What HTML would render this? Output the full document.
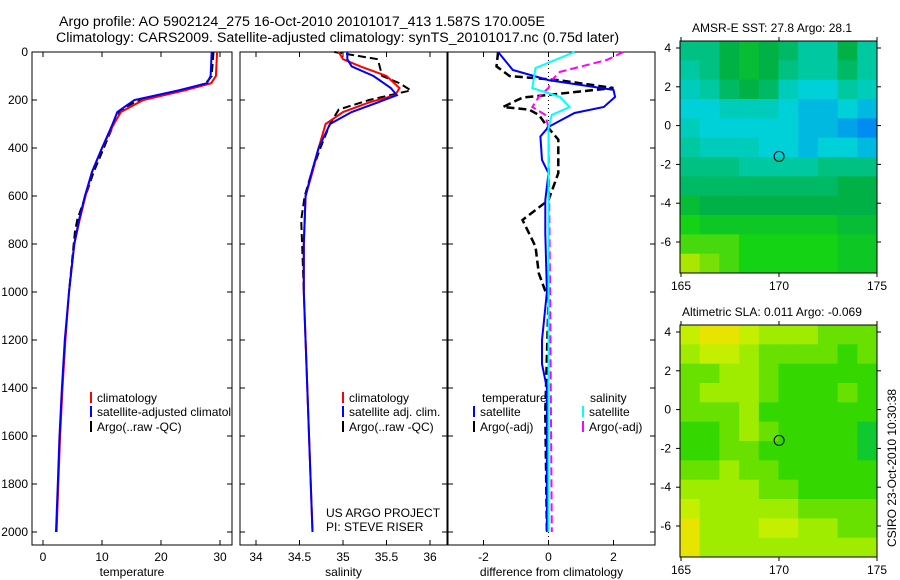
<!DOCTYPE html>
<html><head><meta charset="utf-8"><style>
html,body{margin:0;padding:0;background:#fff;}
svg{display:block;font-family:"Liberation Sans",sans-serif;}
text{font-size:12px;fill:#000;}
</style></head><body>
<svg id="fig" width="900" height="580" viewBox="0 0 900 580" xmlns="http://www.w3.org/2000/svg">
<text x="59" y="26" style="font-size:14.2px">Argo profile: AO 5902124_275 16-Oct-2010 20101017_413 1.587S 170.005E</text>
<text x="56" y="42" style="font-size:14.2px">Climatology: CARS2009. Satellite-adjusted climatology: synTS_20101017.nc (0.75d later)</text>
<text x="692" y="32">AMSR-E SST: 27.8 Argo: 28.1</text>
<text x="682" y="316">Altimetric SLA: 0.011 Argo: -0.069</text>
<text transform="translate(896,547) rotate(-90)">CSIRO 23-Oct-2010 10:30:38</text>
<g id="plots"></g>
</svg>
<script>
// ---------- data ----------
const depthTc=[0,100,130,160,200,250,300,400,500,600,700,800,1000,1200,1400,1600,1800,2000];
const tempClim=[29.5,29.3,28.5,24,17,13.2,12,10,8.3,7.2,6.2,5.3,4.4,3.8,3.3,2.9,2.6,2.3];
const tempSat=[28.6,28.4,27.8,23,15.5,12.6,11.8,10,8.3,7.1,6.1,5.3,4.4,3.7,3.2,2.8,2.5,2.2];
const depthTa=[0,100,130,160,180,210,230,250,300,400,500,600,700,750,800,900,1000];
const tempArgo=[28.9,28.6,27.6,24,20,15.5,14,13,12,10.3,8.6,7.2,5.8,5.4,5.2,4.8,4.4];
const depthS=[0,30,60,100,150,180,210,250,300,400,500,600,800,1000,1400,2000];
const salClim=[34.95,35.0,35.2,35.5,35.65,35.6,35.3,35.0,34.8,34.72,34.65,34.57,34.55,34.55,34.59,34.65];
const salSat=[35.05,35.05,35.1,35.35,35.55,35.62,35.4,35.1,34.85,34.72,34.64,34.57,34.55,34.55,34.59,34.65];
const depthSa=[0,30,100,130,160,200,240,300,400,500,600,700,800,1000];
const salArgo=[34.9,35.4,35.45,35.65,35.78,35.3,34.95,34.85,34.74,34.64,34.56,34.52,34.53,34.55];
const depthD=[0,75,117,158,187,229,254,312,352,450,505,617,755,1000,1200,1300,1400,2000];
const dTempSat=[-1.55,-1.1,0,2.0,2.05,1.7,0.8,0,-0.25,-0.2,0,-0.1,-0.1,-0.05,-0.2,-0.2,-0.05,-0.05];
const depthDs=[0,67,150,187,229,262,317,600,1000,2000];
const dSalSat=[0.8,-0.4,-0.5,0.35,0.65,0.1,0,0,0,0];
const depthDm=[0,33,83,117,150,187,229,262,317,1000,2000];
const dSalArgo=[2.3,1.8,0.35,0.1,0,-0.3,-0.5,-0.1,0,0.05,0.1];
const depthDa=[0,60,100,117,150,190,229,240,262,317,365,417,505,617,700,755,811,922,1033,1500,2000];
const dTempArgo=[-1.55,-1.6,-1.2,0.3,2.0,-0.8,-1.4,-0.6,-0.3,0,0.3,0.3,0.3,0,-0.8,-0.6,-0.4,-0.3,0,-0.1,-0.05];
const depthTicks=[0,200,400,600,800,1000,1200,1400,1600,1800,2000];
const tempTicks=[0,10,20,30];
const salTicks=[34,34.5,35,35.5,36];
const diffTicks=[-2,0,2];
const latTicks=[4,2,0,-2,-4,-6];
const lonTicks=[165,170,175];
const sstGrid=[
[27.8,27.8,27.6,27.5,27.6,27.7,27.9,27.9,27.6,27.9],
[27.9,27.8,27.6,27.5,27.6,27.8,27.9,27.9,27.7,27.9],
[28.0,27.9,27.7,27.6,27.7,28.0,28.1,28.1,27.9,28.0],
[28.1,28.1,28.0,28.0,28.0,28.1,28.2,28.2,28.1,28.2],
[28.0,28.1,28.1,28.1,28.1,28.1,28.2,28.2,28.3,28.4],
[27.9,28.0,28.0,28.0,28.1,28.1,28.2,28.1,28.1,28.2],
[27.8,27.8,27.8,27.9,27.9,27.9,27.9,27.8,27.8,27.8],
[27.7,27.7,27.7,27.7,27.7,27.7,27.7,27.7,27.6,27.6],
[27.5,27.6,27.6,27.6,27.6,27.6,27.6,27.6,27.6,27.6],
[27.3,27.4,27.4,27.4,27.4,27.4,27.4,27.4,27.5,27.5],
[27.2,27.2,27.2,27.3,27.3,27.3,27.3,27.3,27.4,27.4],
[27.0,27.1,27.2,27.3,27.3,27.3,27.3,27.3,27.4,27.4]];
const slaGrid=[
[3,4,4,3,2,2,2,1,1,1],
[2,3,3,2,1,1,1,1,0,1],
[1,1,2,2,1,0,0,0,0,0],
[1,2,2,2,1,0,0,0,1,0],
[1,1,1,2,0,0,0,0,0,0],
[0,0,1,2,1,0,0,0,0,-1],
[0,0,1,1,0,0,0,0,0,-1],
[1,1,2,1,1,0,0,0,0,0],
[2,2,2,2,1,1,0,0,0,0],
[3,2,2,2,2,2,1,1,1,1],
[4,2,2,2,3,3,2,2,1,1],
[4,2,2,2,2,2,2,2,2,2]];
const argoLon=[170.005];
const argoLat=[-1.587];

// ---------- helpers ----------
const NS='http://www.w3.org/2000/svg';
const root=document.getElementById('plots');
function mk(tag,attrs,parent){const e=document.createElementNS(NS,tag);for(const k in attrs)e.setAttribute(k,attrs[k]);(parent||root).appendChild(e);return e;}
function txt(x,y,s,anchor,parent){const t=mk('text',{x:x,y:y,'text-anchor':anchor||'start'},parent);t.textContent=s;return t;}
const yD=d=>52+d*0.24;
const FT=52,FB=545;
function panel(name,x0,x1,xs,ticks,label){
  const g=mk('g',{});
  
  
  const r=mk('rect',{x:x0,y:FT,width:x1-x0,height:FB-FT,fill:'none',stroke:'#000','stroke-width':1},g);
  
  
  ticks.forEach(v=>{const X=xs(v);mk('line',{x1:X,x2:X,y1:FB,y2:FB-5,stroke:'#000'},g);mk('line',{x1:X,x2:X,y1:FT,y2:FT+5,stroke:'#000'},g);
    const t=txt(X,561,String(v),'middle',g);});
  depthTicks.forEach(d=>{mk('line',{x1:x0,x2:x0+5,y1:yD(d),y2:yD(d),stroke:'#000'},g);mk('line',{x1:x1,x2:x1-5,y1:yD(d),y2:yD(d),stroke:'#000'},g);});
  const l=txt((x0+x1)/2,576,label,'middle',g);
  
  
  return g;
}
function line(g,xs,vals,deps,color,dash,nm,w){
  const pts=vals.map((v,i)=>xs(v).toFixed(1)+','+yD(deps[i]).toFixed(1)).join(' ');
  const p=mk('polyline',{points:pts,fill:'none',stroke:color,'stroke-width':w||2,'stroke-dasharray':dash||'none'},g);
  
  
}
function legend(g,x,y,color,label,nm){
  mk('line',{x1:x,x2:x,y1:y-10,y2:y+1,stroke:color,'stroke-width':2},g);
  const t=txt(x+6,y,label,'start',g);
  
  
}
depthTicks.forEach(d=>{const t=txt(28,yD(d)+4,String(d),'end');});

// temperature panel
const xT=v=>43+v*5.9;
const g1=panel('temperature-panel',32,232,xT,tempTicks,'temperature');
line(g1,xT,tempArgo,depthTa,'#000','8,4','temperature-argo-line');
line(g1,xT,tempClim,depthTc,'#f00','','temperature-climatology-line');
line(g1,xT,tempSat,depthTc,'#00f','','temperature-satellite-line');
const c1=mk('svg',{x:32,y:0,width:200,height:580,overflow:'hidden'},g1);
legend(c1,59,402,'#f00','climatology','legend-climatology');
legend(c1,59,416,'#00f','satellite-adjusted climatology','legend-satellite-adjusted');
legend(c1,59,431,'#000','Argo(..raw -QC)','legend-argo-raw');

// salinity panel
const xS=v=>256+(v-34)*87;
const g2=panel('salinity-panel',240,447,xS,salTicks,'salinity');
line(g2,xS,salArgo,depthSa,'#000','8,4','salinity-argo-line');
line(g2,xS,salClim,depthS,'#f00','','salinity-climatology-line');
line(g2,xS,salSat,depthS,'#00f','','salinity-satellite-line');
legend(g2,343,402,'#f00','climatology','legend-sal-climatology');
legend(g2,343,416,'#00f','satellite adj. clim.','legend-sal-satellite');
legend(g2,343,431,'#000','Argo(..raw -QC)','legend-sal-argo');
const p1=txt(326,517,'US ARGO PROJECT','start',g2);
const p2=txt(326,531,'PI: STEVE RISER','start',g2);

// difference panel
const xD=v=>548.5+v*32.5;
const g3=panel('difference-panel',448,655,xD,diffTicks,'difference from climatology');
mk('line',{x1:xD(0),x2:xD(0),y1:FT,y2:FB,stroke:'#000','stroke-dasharray':'1,3'},g3);
line(g3,xD,dTempArgo,depthDa,'#000','8,4','diff-temp-argo-line',2.5);
line(g3,xD,dSalArgo,depthDm,'#f0f','8,4','diff-sal-argo-line');
line(g3,xD,dTempSat,depthD,'#00f','','diff-temp-satellite-line');
line(g3,xD,dSalSat,depthDs,'#0ff','','diff-sal-satellite-line');
const h1=txt(482,402,'temperature','start',g3);
const h2=txt(590,402,'salinity','start',g3);
legend(g3,474,416,'#00f','satellite','legend-diff-temp-satellite');
legend(g3,474,431,'#000','Argo(-adj)','legend-diff-temp-argo');
legend(g3,583,416,'#0ff','satellite','legend-diff-sal-satellite');
legend(g3,583,431,'#f0f','Argo(-adj)','legend-diff-sal-argo');

// maps
function sstColor(v){const stops=[[27.0,[170,230,0]],[27.3,[20,210,20]],[27.6,[0,178,70]],[27.9,[0,200,160]],[28.1,[0,208,216]],[28.4,[0,140,240]]];
  if(v<=stops[0][0])return 'rgb('+stops[0][1]+')';
  for(let i=1;i<stops.length;i++){if(v<=stops[i][0]){const a=stops[i-1],b=stops[i],t=(v-a[0])/(b[0]-a[0]);return 'rgb('+a[1].map((c,k)=>Math.round(c+(b[1][k]-c)*t)).join(',')+')';}}
  return 'rgb('+stops[stops.length-1][1]+')';}
const slaColors={'4':'#e6e400','3':'#c4f000','2':'#a0ec00','1':'#68e000','0':'#34d800','-1':'#10c830'};
function map(name,top,grid,colorFn){
  const x0=680,x1=877,bot=top+232;
  const lonS=v=>681+(v-165)*19.6;
  const latS=v=>top+7+(4-v)*19.4;
  const g=mk('g',{});
  
  
  const cw=(x1-x0)/grid[0].length,ch=(bot-top)/grid.length;
  grid.forEach((row,r)=>row.forEach((v,c)=>{const cell=mk('rect',{x:x0+c*cw,y:top+r*ch,width:cw+0.5,height:ch+0.5,fill:colorFn(v)},g);
    }));
  mk('rect',{x:x0,y:top,width:x1-x0,height:bot-top,fill:'none',stroke:'#000'},g);
  latTicks.forEach(v=>{const Y=latS(v);mk('line',{x1:x0-4,x2:x0,y1:Y,y2:Y,stroke:'#000'},g);mk('line',{x1:x1,x2:x1+4,y1:Y,y2:Y,stroke:'#000'},g);
    const t=txt(x0-9,Y+4,String(v),'end',g);});
  lonTicks.forEach(v=>{const X=lonS(v);mk('line',{x1:X,x2:X,y1:bot,y2:bot+4,stroke:'#000'},g);mk('line',{x1:X,x2:X,y1:top-4,y2:top,stroke:'#000'},g);
    const t=txt(X,bot+17,String(v),'middle',g);});
  const m=mk('circle',{cx:lonS(argoLon[0]),cy:latS(argoLat[0]),r:5,fill:'none',stroke:'#000'},g);
  
  
}
map('sst-map',41,sstGrid,sstColor);
map('sla-map',325,slaGrid,v=>slaColors[String(v)]);
</script>
</body></html>
